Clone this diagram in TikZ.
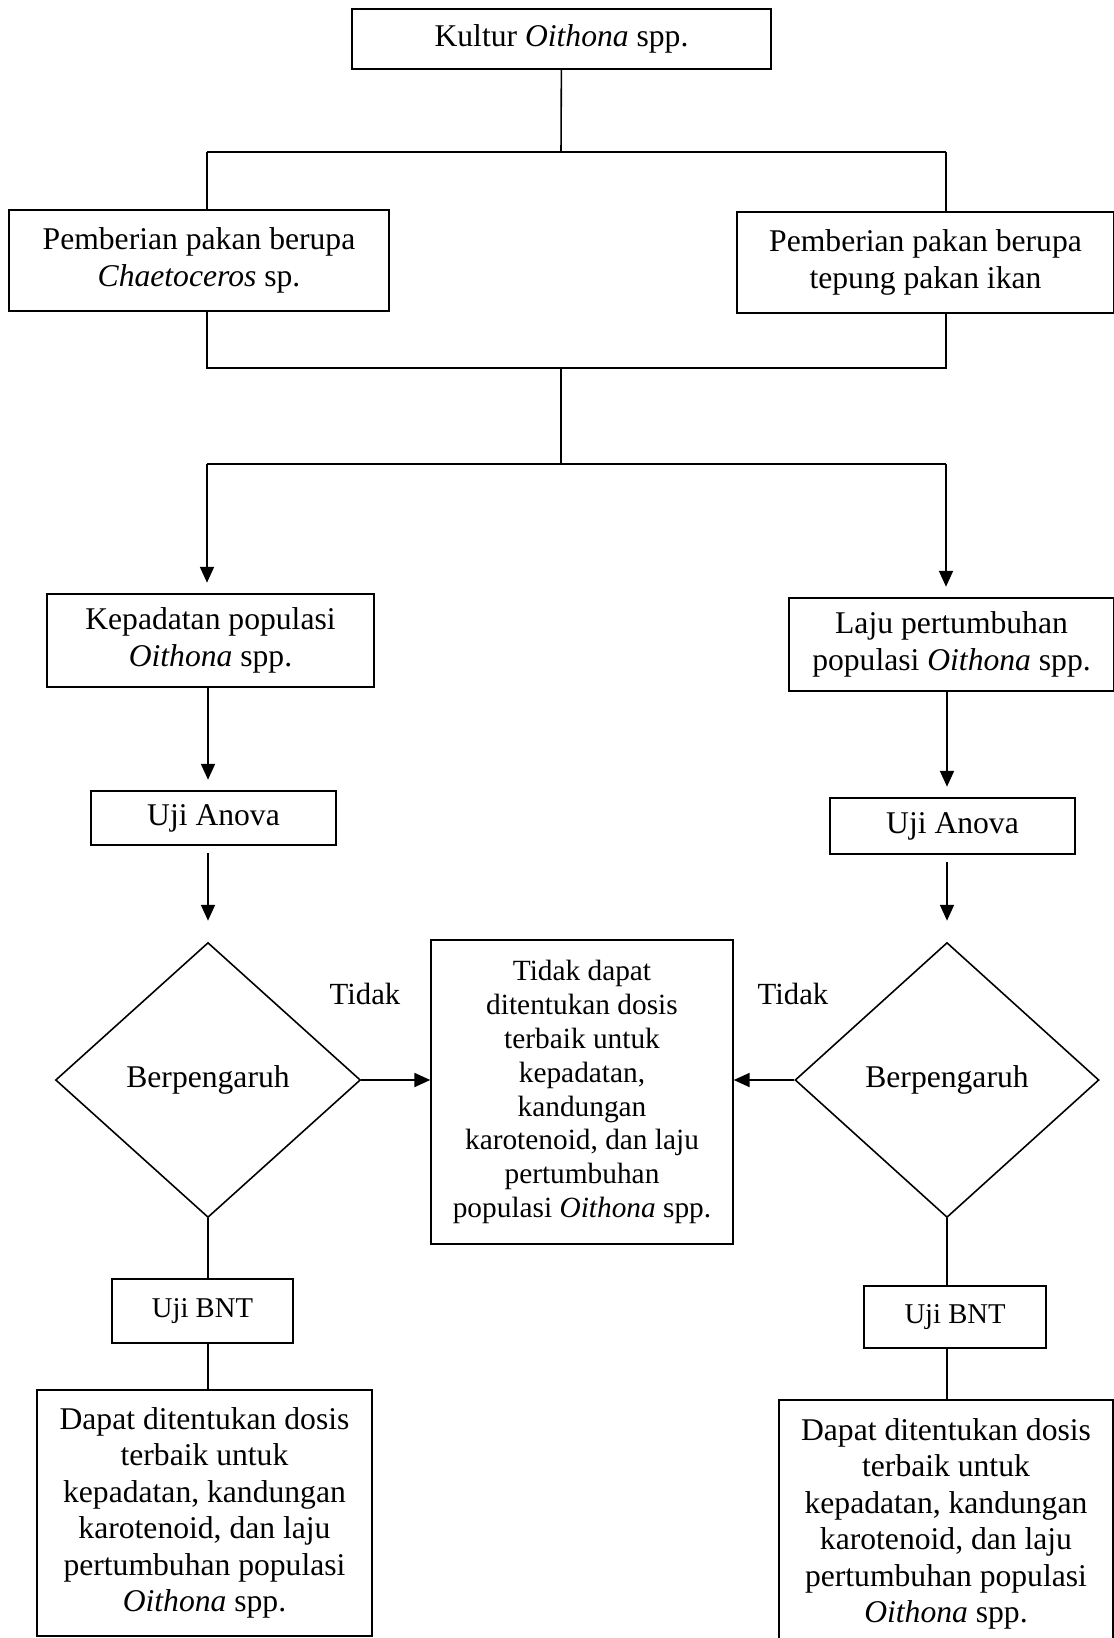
\documentclass[tikz,border=0pt]{standalone}
\usepackage{fontspec}
\setmainfont{Liberation Serif}
\usetikzlibrary{shapes.geometric,arrows.meta,positioning}
\newcommand{\fsz}[2]{\fontsize{#1}{#2}\selectfont}
\tikzstyle{block} = [rectangle, draw, line width=0.9pt, align=center, inner sep=0pt, font=\fsz{18}{21.5}]
\tikzstyle{decision} = [diamond, draw, line width=0.9pt, inner sep=0pt, font=\fsz{18}{21.5}]
\tikzstyle{line} = [line width=0.9pt]
\tikzstyle{arrow} = [-{Triangle[length=9pt,width=8pt]}, line width=0.9pt]

\begin{document}
\begin{tikzpicture}[x=0.02cm, y=-0.02cm]
\useasboundingbox (0,0) rectangle (1114,1638);
\node[block, minimum width=8.38cm, minimum height=1.2cm] (kultur) at (561.5,39) {Kultur \emph{Oithona} spp.\strut};
\node[block, minimum width=7.6cm, minimum height=2.02cm] (chaeto) at (199,260.5) {Pemberian pakan berupa\\ \emph{Chaetoceros} sp.};
\node[block, minimum width=7.54cm, minimum height=2.02cm] (tepung) at (925.5,262.5) {Pemberian pakan berupa\\ tepung pakan ikan};
\node[block, minimum width=6.54cm, minimum height=1.86cm] (kepadatan) at (210.5,640.5) {Kepadatan populasi\\ \emph{Oithona} spp.};
\node[block, minimum width=6.5cm, minimum height=1.86cm] (laju) at (951.5,644.5) {Laju pertumbuhan\\ populasi \emph{Oithona} spp.};
\node[block, minimum width=4.9cm, minimum height=1.08cm] (anovaL) at (213.5,818) {Uji Anova\strut};
\node[block, minimum width=4.9cm, minimum height=1.12cm] (anovaR) at (952.5,826) {Uji Anova\strut};
\node[decision, minimum width=6.1cm, minimum height=5.5cm] (diaL) at (208,1080) {Berpengaruh\hspace{0.4cm}};
\node[decision, minimum width=6.08cm, minimum height=5.5cm] (diaR) at (947,1080) {Berpengaruh};
\node[block, minimum width=6.04cm, minimum height=6.08cm, font=\fsz{16.7}{19.3}] (hasil) at (582,1092) {Tidak dapat\\ ditentukan dosis\\ terbaik untuk\\ kepadatan,\\ kandungan\\ karotenoid, dan laju\\ pertumbuhan\\ populasi \emph{Oithona} spp.};
\node[font=\fsz{17.5}{20}] (tidakL) at (365,994) {Tidak};
\node[font=\fsz{17.5}{20}] (tidakR) at (793,994) {Tidak};
\node[block, minimum width=3.62cm, minimum height=1.28cm, font=\fsz{16.3}{19}] (bntL) at (202.5,1311) {Uji BNT\strut};
\node[block, minimum width=3.64cm, minimum height=1.24cm, font=\fsz{16.3}{19}] (bntR) at (955,1317) {Uji BNT\strut};
\node[block, minimum width=6.7cm, minimum height=4.92cm, font=\fsz{18}{20.8}] (dapatL) at (204.5,1513) {Dapat ditentukan dosis\\ terbaik untuk\\ kepadatan, kandungan\\ karotenoid, dan laju\\ pertumbuhan populasi\\ \emph{Oithona} spp.};
\node[block, minimum width=6.68cm, minimum height=4.96cm, font=\fsz{18}{20.8}] (dapatR) at (946,1524) {Dapat ditentukan dosis\\ terbaik untuk\\ kepadatan, kandungan\\ karotenoid, dan laju\\ pertumbuhan populasi\\ \emph{Oithona} spp.};

% junctions
\coordinate (j1) at (561,152);
\coordinate (j1l) at (207,152);
\coordinate (j1r) at (946,152);
\coordinate (j2) at (561,368);
\coordinate (j2l) at (207,368);
\coordinate (j2r) at (946,368);
\coordinate (j3) at (561,464);
\coordinate (j3l) at (207,464);
\coordinate (j3r) at (946,464);

\draw[line] (kultur) -- (j1);
\draw[line] (j1l) -- (j1r);
\draw[line] (j1l) -- (j1l |- chaeto.north);
\draw[line] (j1r) -- (j1r |- tepung.north);
\draw[line] (j2l |- chaeto.south) -- (j2l) -- (j2r) -- (j2r |- tepung.south);
\draw[line] (j2) -- (j3);
\draw[line] (j3l) -- (j3r);

\draw[arrow, shorten >=6pt] (j3l) -- (j3l |- kepadatan.north);
\draw[arrow, shorten >=6pt] (j3r) -- (j3r |- laju.north);
\draw[arrow, shorten >=6pt] (kepadatan.south -| diaL) -- (anovaL.north -| diaL);
\draw[arrow, shorten >=6pt] (laju.south -| diaR) -- (anovaR.north -| diaR);
\draw[arrow, shorten >=12pt, shorten <=4pt] (anovaL.south -| diaL) -- (diaL.north);
\draw[arrow, shorten >=12pt, shorten <=4pt] (anovaR.south -| diaR) -- (diaR.north);
\draw[arrow] (diaL.east) -- (diaL.east -| hasil.west);
\draw[arrow] (diaR.west) -- (diaR.west -| hasil.east);

\draw[line] (diaL.south) -- (bntL.north -| diaL);
\draw[line] (diaR.south) -- (bntR.north -| diaR);
\draw[line] (bntL.south -| diaL) -- (dapatL.north -| diaL);
\draw[line] (bntR.south -| diaR) -- (dapatR.north -| diaR);
\end{tikzpicture}
\end{document}
